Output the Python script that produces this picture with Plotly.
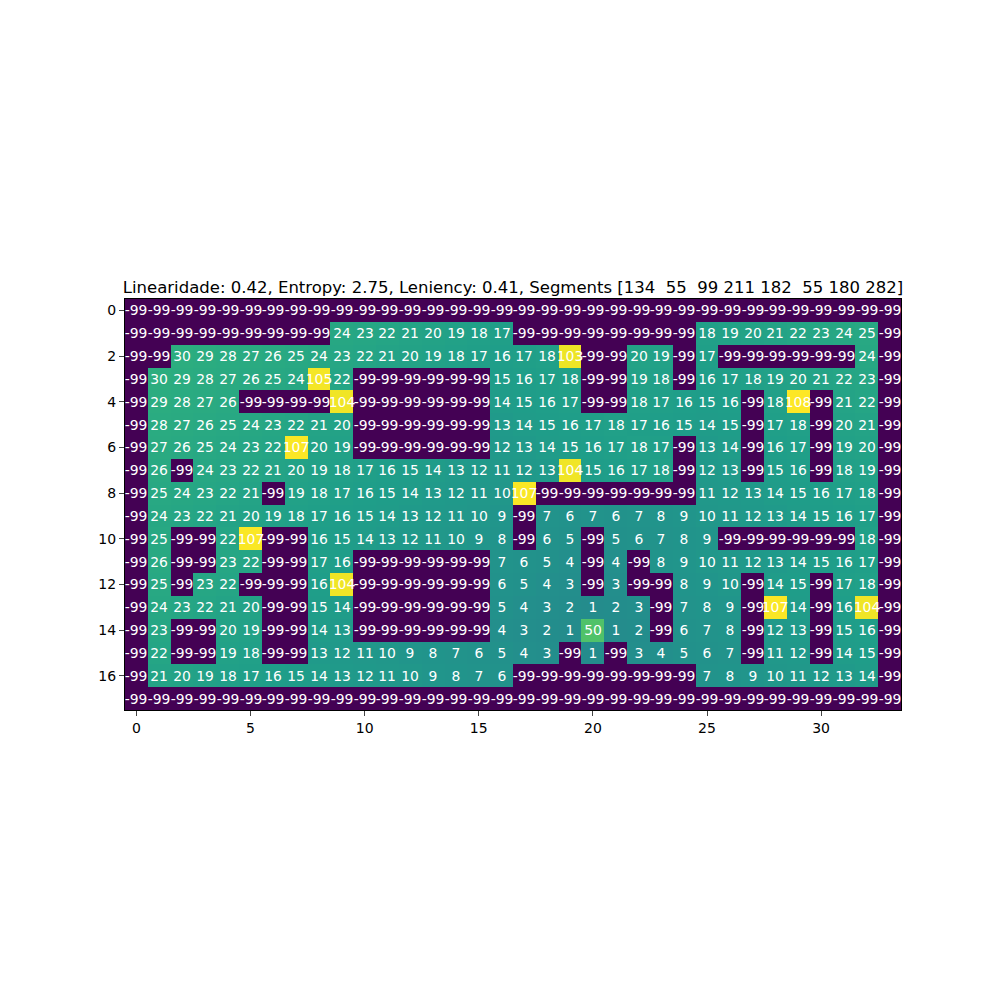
import plotly.graph_objects as go

N = -99
r00 = [N]*34
r01 = [N]*9 + [24, 23, 22, 21, 20, 19, 18, 17] + [N]*8 + [18, 19, 20, 21, 22, 23, 24, 25, N]
r02 = [N, N, 30, 29, 28, 27, 26, 25, 24, 23, 22, 21, 20, 19, 18, 17, 16, 17, 18, 103, N, N, 20, 19, N, 17, N, N, N, N, N, N, 24, N]
r03 = [N, 30, 29, 28, 27, 26, 25, 24, 105, 22, N, N, N, N, N, N, 15, 16, 17, 18, N, N, 19, 18, N, 16, 17, 18, 19, 20, 21, 22, 23, N]
r04 = [N, 29, 28, 27, 26, N, N, N, N, 104, N, N, N, N, N, N, 14, 15, 16, 17, N, N, 18, 17, 16, 15, 16, N, 18, 108, N, 21, 22, N]
r05 = [N, 28, 27, 26, 25, 24, 23, 22, 21, 20, N, N, N, N, N, N, 13, 14, 15, 16, 17, 18, 17, 16, 15, 14, 15, N, 17, 18, N, 20, 21, N]
r06 = [N, 27, 26, 25, 24, 23, 22, 107, 20, 19, N, N, N, N, N, N, 12, 13, 14, 15, 16, 17, 18, 17, N, 13, 14, N, 16, 17, N, 19, 20, N]
r07 = [N, 26, N, 24, 23, 22, 21, 20, 19, 18, 17, 16, 15, 14, 13, 12, 11, 12, 13, 104, 15, 16, 17, 18, N, 12, 13, N, 15, 16, N, 18, 19, N]
r08 = [N, 25, 24, 23, 22, 21, N, 19, 18, 17, 16, 15, 14, 13, 12, 11, 10, 107, N, N, N, N, N, N, N, 11, 12, 13, 14, 15, 16, 17, 18, N]
r09 = [N, 24, 23, 22, 21, 20, 19, 18, 17, 16, 15, 14, 13, 12, 11, 10, 9, N, 7, 6, 7, 6, 7, 8, 9, 10, 11, 12, 13, 14, 15, 16, 17, N]
r10 = [N, 25, N, N, 22, 107, N, N, 16, 15, 14, 13, 12, 11, 10, 9, 8, N, 6, 5, N, 5, 6, 7, 8, 9, N, N, N, N, N, N, 18, N]
r11 = [N, 26, N, N, 23, 22, N, N, 17, 16, N, N, N, N, N, N, 7, 6, 5, 4, N, 4, N, 8, 9, 10, 11, 12, 13, 14, 15, 16, 17, N]
r12 = [N, 25, N, 23, 22, N, N, N, 16, 104, N, N, N, N, N, N, 6, 5, 4, 3, N, 3, N, N, 8, 9, 10, N, 14, 15, N, 17, 18, N]
r13 = [N, 24, 23, 22, 21, 20, N, N, 15, 14, N, N, N, N, N, N, 5, 4, 3, 2, 1, 2, 3, N, 7, 8, 9, N, 107, 14, N, 16, 104, N]
r14 = [N, 23, N, N, 20, 19, N, N, 14, 13, N, N, N, N, N, N, 4, 3, 2, 1, 50, 1, 2, N, 6, 7, 8, N, 12, 13, N, 15, 16, N]
r15 = [N, 22, N, N, 19, 18, N, N, 13, 12, 11, 10, 9, 8, 7, 6, 5, 4, 3, N, 1, N, 3, 4, 5, 6, 7, N, 11, 12, N, 14, 15, N]
r16 = [N, 21, 20, 19, 18, 17, 16, 15, 14, 13, 12, 11, 10, 9, 8, 7, 6, N, N, N, N, N, N, N, N, 7, 8, 9, 10, 11, 12, 13, 14, N]
r17 = [N]*34

z = [r00, r01, r02, r03, r04, r05, r06, r07, r08, r09, r10, r11, r12, r13, r14, r15, r16, r17]
x_ticks = [0, 5, 10, 15, 20, 25, 30]
y_ticks = [0, 2, 4, 6, 8, 10, 12, 14, 16]
title = "Linearidade: 0.42, Entropy: 2.75, Leniency: 0.41, Segments [134  55  99 211 182  55 180 282]"

fig = go.Figure(go.Heatmap(
    z=z,
    text=[[str(v) for v in row] for row in z],
    texttemplate="%{text}",
    textfont=dict(color="white", size=13.9, family="DejaVu Sans"),
    colorscale="Viridis",
    zmin=-99, zmax=108,
    showscale=False,
    xgap=0, ygap=0,
))

fig.update_layout(
    width=1000, height=1000,
    margin=dict(l=117, r=107, t=291, b=298),
    paper_bgcolor="white", plot_bgcolor="white",
    font=dict(family="DejaVu Sans", color="black", size=14),
    title=dict(text=title, x=0.5, xref="paper", y=1 - 279/1000, yanchor="middle",
               font=dict(size=16.5, family="DejaVu Sans", color="black")),
)
fig.update_xaxes(range=[-0.5, 33.5], tickvals=x_ticks, ticks="outside", ticklen=5,
                 showline=True, linecolor="black", linewidth=1, mirror=True,
                 showgrid=False, zeroline=False, tickfont=dict(size=14))
fig.update_yaxes(range=[17.5, -0.5], tickvals=y_ticks, ticks="outside", ticklen=5,
                 showline=True, linecolor="black", linewidth=1, mirror=True,
                 showgrid=False, zeroline=False, tickfont=dict(size=14))

fig.write_html("out.html")
